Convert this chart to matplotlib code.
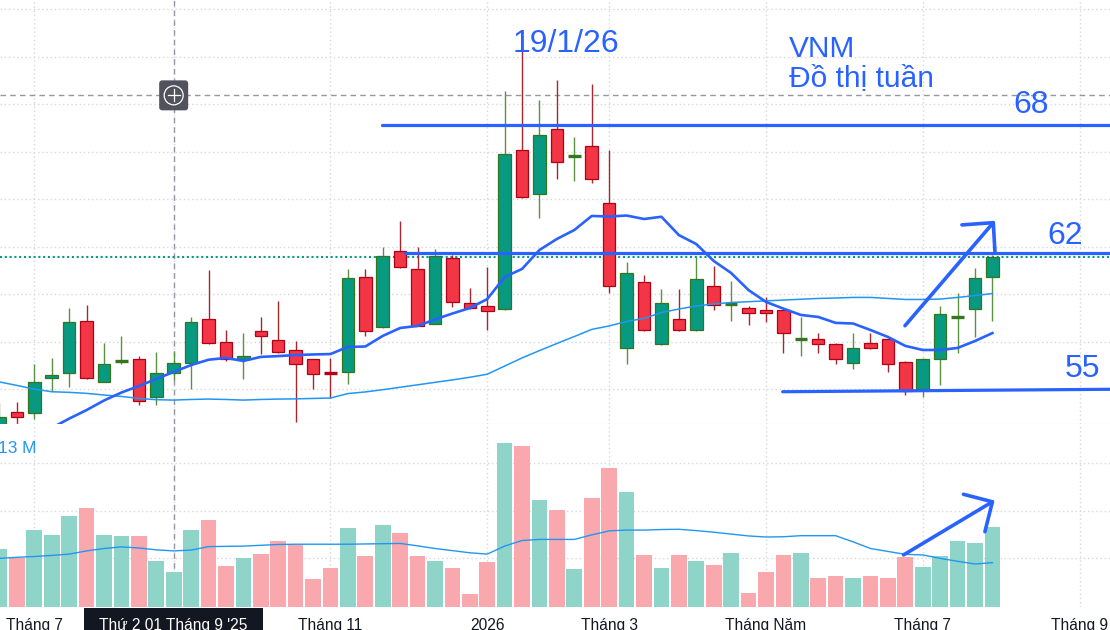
import numpy as np
import matplotlib.pyplot as plt
from matplotlib.patches import Rectangle, FancyBboxPatch, Circle
from matplotlib.lines import Line2D
from matplotlib.transforms import blended_transform_factory, IdentityTransform

plt.rcParams['font.family'] = ['Liberation Sans', 'DejaVu Sans']

# VNM weekly bars, first bar = week of 23/06/2025 (price in nghin dong, volume in millions)
opens = [53.05, 53.92, 53.87, 55.59, 55.84, 58.39, 55.42, 56.43, 56.52, 54.66,
         55.84, 56.36, 58.50, 57.36, 56.52, 57.90, 57.46, 56.96, 56.52, 55.88,
         55.88, 60.55, 58.09, 61.84, 60.96, 58.26, 61.48, 59.27, 59.12, 58.98,
         66.78, 64.65, 67.81, 66.49, 66.98, 64.18, 57.06, 60.30, 57.26, 58.49,
         57.95, 60.11, 59.21, 59.03, 58.93, 58.93, 57.53, 57.50, 57.26, 56.33,
         57.31, 57.50, 56.40, 55.05, 56.52, 58.59, 58.98, 60.55]
highs = [54.39, 54.43, 56.29, 56.59, 59.04, 59.19, 57.34, 57.67, 56.68, 56.87,
         56.88, 58.60, 60.91, 57.96, 57.81, 58.60, 59.38, 57.42, 56.54, 56.59,
         60.96, 60.96, 62.04, 63.31, 62.04, 61.94, 61.63, 60.02, 61.05, 69.69,
         71.95, 69.25, 70.23, 67.44, 70.04, 66.80, 61.30, 60.66, 59.97, 59.97,
         61.56, 61.10, 60.37, 59.14, 59.58, 58.95, 58.60, 57.81, 57.31, 57.81,
         57.81, 57.52, 56.42, 56.57, 59.14, 59.76, 61.00, 61.64]
lows = [52.56, 53.30, 53.59, 54.97, 55.18, 55.55, 55.40, 56.31, 54.29, 54.29,
        55.51, 55.06, 57.28, 56.44, 55.57, 56.80, 56.85, 53.46, 55.06, 54.62,
        55.30, 57.69, 58.07, 61.02, 58.14, 58.24, 59.07, 59.01, 57.98, 58.96,
        64.46, 63.47, 65.39, 65.29, 65.19, 59.78, 56.28, 57.93, 57.24, 57.93,
        57.93, 58.96, 58.42, 58.22, 58.37, 56.82, 56.70, 56.82, 56.28, 56.03,
        57.01, 55.91, 54.75, 54.69, 55.25, 56.82, 57.60, 58.42]
closes = [53.68, 53.68, 55.39, 55.74, 58.34, 55.59, 56.28, 56.47, 54.46, 55.84,
          56.33, 58.34, 57.31, 56.52, 56.67, 57.65, 56.87, 56.28, 55.79, 55.79,
          60.50, 57.89, 61.59, 61.04, 58.16, 61.58, 59.32, 59.03, 58.88, 66.59,
          64.48, 67.52, 66.19, 66.54, 65.36, 60.11, 60.74, 57.95, 59.27, 57.95,
          60.48, 59.17, 59.24, 58.78, 58.78, 57.80, 57.55, 57.26, 56.52, 57.06,
          57.06, 56.28, 54.95, 56.52, 58.73, 58.61, 60.50, 61.53]
volumes = [21.6, 18.4, 28.7, 26.9, 34.0, 37.0, 26.9, 26.5, 26.5, 17.1,
           13.0, 28.7, 32.5, 15.2, 18.2, 19.7, 24.6, 23.1, 10.4, 14.5,
           29.5, 19.0, 30.6, 27.6, 19.0, 17.1, 14.5, 4.8, 16.7, 61.3,
           60.2, 40.0, 36.2, 14.1, 40.7, 51.9, 43.0, 19.4, 14.5, 19.4,
           17.1, 15.6, 20.1, 5.1, 13.0, 19.4, 20.1, 10.7, 11.5, 10.7,
           11.5, 10.7, 18.6, 14.9, 19.0, 24.6, 23.9, 29.9]

ma_fast = [None, None, None, 53.15, 53.61, 54.03, 54.50, 54.89, 55.21, 55.56,
           55.90, 56.24, 56.50, 56.59, 56.44, 56.64, 56.68, 56.73, 56.76, 56.78,
           57.13, 57.15, 57.67, 58.06, 58.16, 58.48, 58.77, 59.04, 59.48, 60.56,
           60.96, 61.89, 62.43, 62.87, 63.56, 63.53, 63.58, 63.41, 63.52, 62.62,
           62.18, 61.35, 60.76, 59.92, 59.34, 59.01, 58.70, 58.60, 58.31, 58.28,
           57.96, 57.62, 57.18, 56.98, 56.98, 57.08, 57.42, 57.81]
ma_slow = [55.41, 55.24, 55.06, 54.93, 54.90, 54.85, 54.77, 54.70, 54.60, 54.54,
           54.52, 54.55, 54.57, 54.55, 54.52, 54.55, 54.57, 54.58, 54.60, 54.62,
           54.84, 54.92, 55.03, 55.15, 55.27, 55.39, 55.51, 55.64, 55.79, 56.19,
           56.59, 56.95, 57.30, 57.64, 57.99, 58.16, 58.38, 58.53, 58.82, 58.99,
           59.14, 59.24, 59.31, 59.35, 59.39, 59.43, 59.47, 59.51, 59.53, 59.56,
           59.56, 59.51, 59.46, 59.46, 59.48, 59.56, 59.65, 59.75]
vol_ma = [18.1, 18.5, 18.8, 19.2, 19.7, 20.9, 21.8, 22.4, 22.0, 21.3,
          20.9, 21.2, 22.5, 22.6, 22.7, 23.0, 23.3, 23.4, 23.4, 23.4,
          23.4, 23.5, 23.6, 23.7, 22.8, 21.8, 21.0, 20.2, 19.7, 22.7,
          24.8, 25.2, 25.2, 25.2, 26.9, 28.4, 28.7, 28.7, 28.9, 29.0,
          28.5, 27.9, 27.2, 26.5, 26.1, 26.2, 26.6, 26.6, 26.6, 24.3,
          21.8, 20.7, 19.6, 19.4, 18.1, 17.0, 16.0, 16.5]

month_pos = [2, 10, 19, 28, 35, 44, 53, 62]
month_labels = ['Tháng 7', 'Tháng 9', 'Tháng 11', '2026', 'Tháng 3',
                'Tháng Năm', 'Tháng 7', 'Tháng 9']

# hand drawn support / resistance
level_start = [21.94, 23.28, 44.96]
level_price = [68.0, 61.74, 54.93]
level_end_price = [68.0, 61.74, 55.05]
level_labels = ['68', '62', '55']

cross_i = 10
cross_price = 69.48
cross_label = "Thứ 2 01 Tháng 9 '25"
hover_volume = '13 M'

W, H = 1110, 630
fig = plt.figure(figsize=(W / 100, H / 100), dpi=100)
ax = fig.add_axes([0, 1 - 424 / H, 1, 424 / H])
axv = fig.add_axes([0, (H - 606.7) / H, 1, (606.7 - 424) / H])

BLUE = '#2962FF'
LBLUE = '#2196F3'
UP, UP_EDGE, UP_WICK = '#089981', '#33761f', '#5b9140'
DN, DN_EDGE, DN_WICK = '#f23645', '#b00015', '#a8272f'
GRID = '#d6d8de'

x = np.arange(len(opens))

for a in (ax, axv):
    a.set_xlim(0.03, 63.75)
    a.set_xticks(month_pos)
    a.tick_params(length=0, labelbottom=False, labelleft=False)
    a.grid(True, color=GRID, ls=(0, (1, 2)), lw=1)
    a.set_axisbelow(True)
    for s in a.spines.values():
        s.set_visible(False)

ax.set_ylim(53.346, 74.161)
ax.set_yticks(np.arange(73.70, 54.5, -2.33))
ax.spines['bottom'].set_visible(True)
ax.spines['bottom'].set_color('#e0e3eb')
axv.set_ylim(0, 68.43)
axv.set_yticks(np.arange(18.1, 60, 17.8))

# crosshair
dash = dict(color='#9598a1', lw=1, ls=(0, (4, 3)), zorder=1)
ax.axvline(cross_i, **dash)
axv.axvline(cross_i, **dash)
ax.axhline(cross_price, **dash)

# candles
bw = 0.72
for i in range(len(opens)):
    o, h, l, c = opens[i], highs[i], lows[i], closes[i]
    up = c >= o
    wick = UP_WICK if up else DN_WICK
    edge = UP_EDGE if up else DN_EDGE
    face = UP if up else DN
    ax.vlines(i, l, h, color=wick, lw=1.0, zorder=2)
    if abs(c - o) < 0.12:
        ax.hlines((o + c) / 2, i - bw / 2, i + bw / 2, color=edge, lw=2.4, zorder=3)
    else:
        ax.add_patch(Rectangle((i - bw / 2, min(o, c)), bw, abs(c - o),
                               fc=face, ec=edge, lw=0.9, zorder=3))

ax.plot(x, np.array(ma_slow, dtype=float), color=LBLUE, lw=1.1, zorder=4)
ax.plot(x, np.array(ma_fast, dtype=float), color=BLUE, lw=1.9, zorder=4)

# last price marker
ax.axhline(closes[-1], color=UP, lw=1.5, ls=(0, (1, 1.3)), zorder=1)

# annotations
for s, p0, p1, lab in zip(level_start, level_price, level_end_price, level_labels):
    ax.plot([s, 63.75], [p0, p1], color=BLUE, lw=2.3, zorder=5,
            solid_capstyle='round')
lab_pos = {'68': (59.2, 68.63), '62': (61.18, 62.17), '55': (62.2, 55.67)}
for lab in level_labels:
    ax.text(*lab_pos[lab], lab, color=BLUE, fontsize=23, ha='center',
            va='baseline', zorder=6)

ax.text(32.49, 71.59, '19/1/26', color=BLUE, fontsize=23, ha='center', va='baseline')
ax.text(45.32, 71.38, 'VNM', color=BLUE, fontsize=21.5, ha='left', va='baseline')
ax.text(45.32, 69.94, 'Đồ thị tuần', color=BLUE, fontsize=21.5, ha='left', va='baseline')

arrow_kw = dict(color=BLUE, lw=2.6, zorder=6, solid_capstyle='round',
                solid_joinstyle='round')
ax.plot([51.98, 57.05], [58.17, 63.23], **arrow_kw)
ax.plot([55.25, 57.05, 57.15], [63.12, 63.23, 61.73], **arrow_kw)

# volume
vcol = ['#8fd4c8' if c >= o else '#f9a8ae' for o, c in zip(opens, closes)]
axv.bar(x, volumes, width=0.9, color=vcol, zorder=2)
axv.plot(x, vol_ma, color=LBLUE, lw=1.0, zorder=3)
axv.plot([51.9, 57.0], [19.4, 39.3], **arrow_kw)
axv.plot([55.34, 57.0, 56.57], [42.1, 39.3, 28.1], **arrow_kw)

fig.text(-2 / W, 1 - 453.3 / H, hover_volume, color=LBLUE, fontsize=12.4,
         ha='left', va='baseline')

# time axis labels (the one under the crosshair is covered by its date box)
tr = blended_transform_factory(axv.transData, fig.transFigure)
for pos, lab in zip(month_pos, month_labels):
    if pos == cross_i:
        continue
    fig.text(pos, 0.2 / H, lab, transform=tr, ha='center', va='baseline',
             fontsize=11.2, color='#131722')

fig.add_artist(Rectangle((84 / W, 0), 179 / W, 22 / H, transform=fig.transFigure,
                         fc='#131722', ec='none', zorder=5))
fig.text(173.5 / W, 0.2 / H, cross_label, color='white', ha='center',
         va='baseline', fontsize=11.2, zorder=6)

# crosshair "+" button
px, py = ax.transData.transform((cross_i, cross_price))
idt = IdentityTransform()
fig.add_artist(FancyBboxPatch((px - 14.5, py - 15), 29, 30,
                              boxstyle='round,pad=0,rounding_size=3',
                              transform=idt, fc='#50535e', ec='none', zorder=10))
fig.add_artist(Circle((px, py), 9.5, transform=idt, fill=False, ec='white',
                      lw=0.9, zorder=11))
fig.add_artist(Line2D([px - 6, px + 6], [py, py], transform=idt, color='white',
                      lw=0.9, zorder=11))
fig.add_artist(Line2D([px, px], [py - 6, py + 6], transform=idt, color='white',
                      lw=0.9, zorder=11))

fig.savefig('out.png', dpi=100)
